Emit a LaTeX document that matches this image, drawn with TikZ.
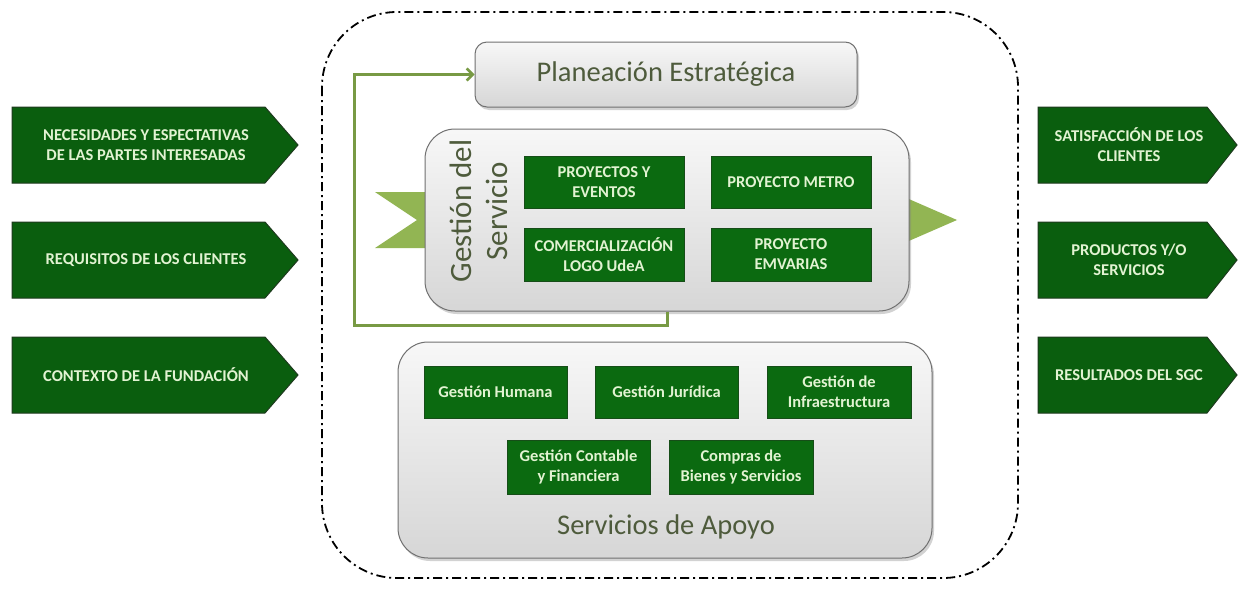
\documentclass[tikz,border=0pt]{standalone}
\usepackage{fontspec}
\setmainfont{Carlito}
\usetikzlibrary{shadows,arrows.meta,calc}
\definecolor{dkgreen}{HTML}{0B6A10}
\definecolor{arrgreen}{HTML}{0A5E0E}
\definecolor{edgegreen}{HTML}{1E3A1E}
\definecolor{lightgreen}{HTML}{92B553}
\definecolor{fbgreen}{HTML}{789A44}
\definecolor{paletext}{HTML}{E2F3D2}
\definecolor{olivetext}{HTML}{4E5B3C}
\definecolor{boxedge}{HTML}{707070}
\tikzset{
  arrowshape/.style={fill=arrgreen, draw=edgegreen, line width=1pt},
  arrowtext/.style={text=paletext, font=\bfseries\fontsize{16.5}{20}\selectfont, align=center},
  gbox/.style={fill=dkgreen, draw=edgegreen!60!dkgreen, line width=0.6pt, text=paletext,
    font=\bfseries\fontsize{16.5}{20}\selectfont, align=center, inner sep=0pt},
  graybox/.style={draw=boxedge, line width=1pt, top color=gray!6, bottom color=gray!32,
    drop shadow={shadow xshift=2pt, shadow yshift=-3pt, opacity=0.35}},
  bigtext/.style={text=olivetext, align=center},
  fb/.style={draw=fbgreen, line width=3pt, -{Straight Barb[length=6pt,width=12pt,line width=2.5pt]}},
  outline/.style={draw=black, line width=1.8pt, dash pattern=on 9pt off 4pt on 2pt off 4pt}
}
\begin{document}
\begin{tikzpicture}[x=1pt,y=-1pt]
\useasboundingbox[fill=white] (0,0) rectangle (1239,592);

% dash-dot enclosure
\draw[outline, rounded corners=75pt] (322,12) rectangle (1018,578);

% left input arrows
\draw[arrowshape] (12,107) -- (265,107) -- (298,145) -- (265,183) -- (12,183) -- cycle;
\node[arrowtext] (in1) at (146,145) {NECESIDADES Y ESPECTATIVAS\\DE LAS PARTES INTERESADAS};
\draw[arrowshape] (12,222) -- (265,222) -- (298,260) -- (265,298) -- (12,298) -- cycle;
\node[arrowtext] (in2) at (146,260) {REQUISITOS DE LOS CLIENTES};
\draw[arrowshape] (12,337) -- (265,337) -- (298,375) -- (265,413) -- (12,413) -- cycle;
\node[arrowtext] (in3) at (146,375) {CONTEXTO DE LA FUNDACIÓN};

% right output arrows
\draw[arrowshape] (1038,107) -- (1207,107) -- (1237,145) -- (1207,183) -- (1038,183) -- cycle;
\node[arrowtext] (out1) at (1129,145) {SATISFACCIÓN DE LOS\\CLIENTES};
\draw[arrowshape] (1038,222) -- (1207,222) -- (1237,260) -- (1207,298) -- (1038,298) -- cycle;
\node[arrowtext] (out2) at (1129,260) {PRODUCTOS Y/O\\SERVICIOS};
\draw[arrowshape] (1038,337) -- (1207,337) -- (1237,375) -- (1207,413) -- (1038,413) -- cycle;
\node[arrowtext] (out3) at (1129,375) {RESULTADOS DEL SGC};

% chevron and triangle of the service process
\fill[lightgreen] (375,192) -- (440,192) -- (440,248) -- (375,248) -- (417,220) -- cycle;
\fill[lightgreen] (895,193) -- (957,220) -- (895,247) -- cycle;

% Planeacion Estrategica
\node[graybox, rounded corners=12pt, minimum width=382pt, minimum height=65pt,
      bigtext, font=\fontsize{28.5}{32}\selectfont] (pe) at (666,74.5) {Planeación Estratégica};

% Gestion del Servicio
\node[graybox, rounded corners=30pt, minimum width=484pt, minimum height=182pt] (gs) at (667,220) {};
\node[bigtext, rotate=90, font=\fontsize{31}{36}\selectfont] (gst) at (479,211) {Gestión del\\Servicio};
\node[gbox, minimum width=160pt, minimum height=52pt] (p1) at (604,182) {PROYECTOS Y\\EVENTOS};
\node[gbox, minimum width=160pt, minimum height=52pt] (p2) at (791,182) {PROYECTO METRO};
\node[gbox, minimum width=160pt, minimum height=53pt] (p3) at (604,254.5) {COMERCIALIZACIÓN\\LOGO UdeA};
\node[gbox, minimum width=160pt, minimum height=53pt] (p4) at (791,254.5) {PROYECTO\\EMVARIAS};

% Servicios de Apoyo
\node[graybox, rounded corners=30pt, minimum width=534pt, minimum height=216pt] (sa) at (665,450) {};
\node[bigtext, font=\fontsize{28.5}{32}\selectfont] (sat) at (666,527) {Servicios de Apoyo};
\node[gbox, minimum width=143pt, minimum height=52pt] (a1) at (495.5,392) {Gestión Humana};
\node[gbox, minimum width=143pt, minimum height=52pt] (a2) at (666.5,392) {Gestión Jurídica};
\node[gbox, minimum width=144pt, minimum height=52pt] (a3) at (839,392) {Gestión de\\Infraestructura};
\node[gbox, minimum width=143pt, minimum height=54pt] (a4) at (578.5,467) {Gestión Contable\\y Financiera};
\node[gbox, minimum width=144pt, minimum height=54pt] (a5) at (741,467) {Compras de\\Bienes y Servicios};

% feedback connector
\coordinate (fbc) at (667,325);
\coordinate (fbl) at (354,325);
\draw[fb] (gs.south -| fbc) -- (fbc) -- (fbl) |- (pe.west);
\end{tikzpicture}
\end{document}
